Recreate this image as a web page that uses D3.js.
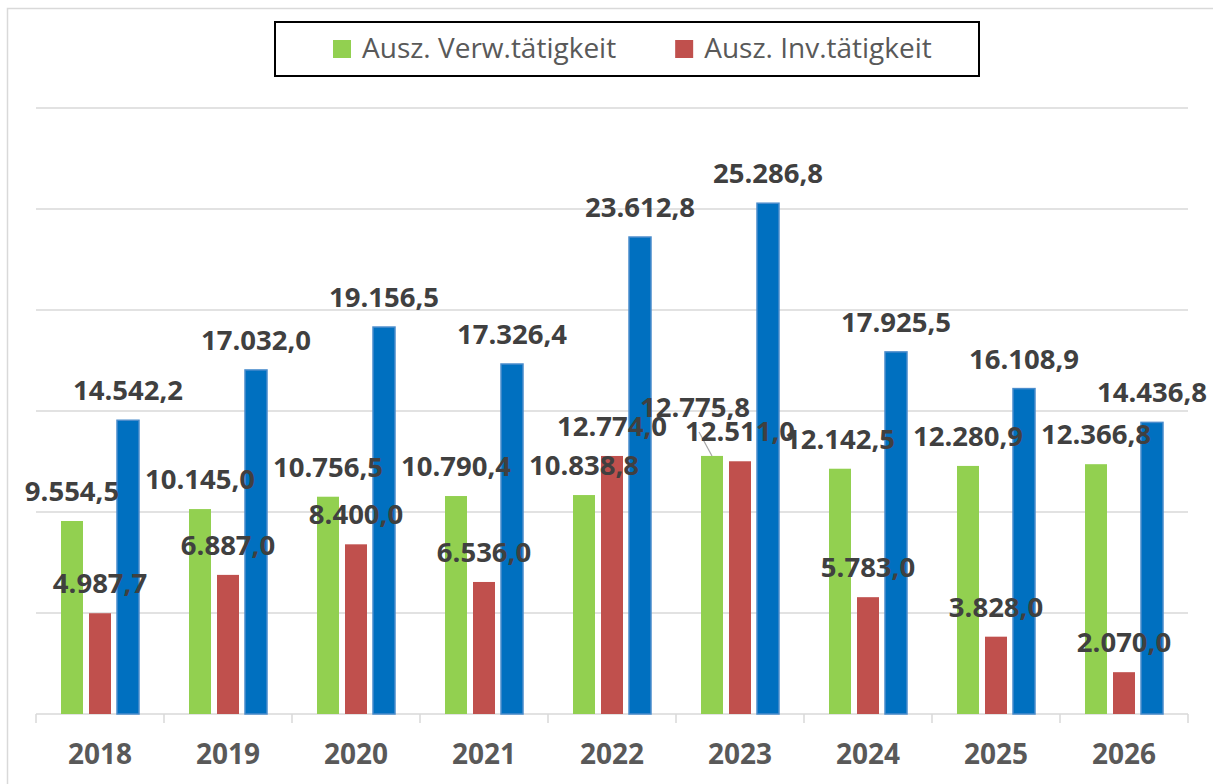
<!DOCTYPE html>
<html>
<head>
<meta charset="utf-8">
<script src="https://cdn.jsdelivr.net/npm/d3@7"></script>
<style>
  body { margin: 0; background: #fff; }
  .lbl { font-family: "Open Sans", sans-serif; font-weight: bold; font-size: 27.5px; fill: #404040; }
  .year { font-family: "Open Sans", sans-serif; font-weight: bold; font-size: 28px; fill: #595959; }
  .leg { font-family: "Open Sans", sans-serif; font-size: 28px; fill: #595959; }
</style>
</head>
<body>
<div id="chart"></div>
<script>
// chart values
var years = ["2018", "2019", "2020", "2021", "2022", "2023", "2024", "2025", "2026"];
var verw = [9554.5, 10145.0, 10756.5, 10790.4, 10838.8, 12775.8, 12142.5, 12280.9, 12366.8];
var inv = [4987.7, 6887.0, 8400.0, 6536.0, 12774.0, 12511.0, 5783.0, 3828.0, 2070.0];
var gesamt = [14542.2, 17032.0, 19156.5, 17326.4, 23612.8, 25286.8, 17925.5, 16108.9, 14436.8];
var seriesNames = ["Ausz. Verw.tätigkeit", "Ausz. Inv.tätigkeit", "Ausz. gesamt"];
var yTicks = [0, 5000, 10000, 15000, 20000, 25000, 30000];

var colors = ["#92D050", "#C0504D", "#0070C0"];
var series = [verw, inv, gesamt];

// size of the page
var W = 1213, H = 784;
var plot = {left: 36, right: 1188, top: 108, bottom: 714};

// german number format
var de = d3.formatLocale({decimal: ",", thousands: ".", grouping: [3], currency: ["", " €"]});
var fmt = de.format(",.1f");

var svg = d3.select("#chart").append("svg")
  .attr("width", W)
  .attr("height", H);

// outer frame
svg.append("rect")
  .attr("x", 7.5).attr("y", 8.5)
  .attr("width", W + 20).attr("height", H + 20)
  .attr("fill", "#fff")
  .attr("stroke", "#d9d9d9")
  .attr("stroke-width", 1.5);

// scales
var x0 = d3.scaleBand()
  .domain(years)
  .range([plot.left, plot.right]);

var x1 = d3.scaleBand()
  .domain([0, 1, 2])
  .range([0, 84])
  .paddingInner(6 / 28)
  .paddingOuter(3 / 28);

var y = d3.scaleLinear()
  .domain([0, 30000])
  .range([plot.bottom, plot.top]);

// gridlines
svg.append("g")
  .selectAll("line")
  .data(yTicks.slice(1))
  .enter().append("line")
  .attr("x1", plot.left).attr("x2", plot.right)
  .attr("y1", function(d) { return y(d); })
  .attr("y2", function(d) { return y(d); })
  .attr("stroke", "#d9d9d9")
  .attr("stroke-width", 1.5);

// x axis with tick marks between categories
var xAxis = svg.append("g")
  .attr("transform", "translate(0," + plot.bottom + ")");
xAxis.append("line")
  .attr("x1", plot.left).attr("x2", plot.right)
  .attr("stroke", "#d9d9d9").attr("stroke-width", 1.5);
xAxis.selectAll(".tk")
  .data(years.concat(["end"]))
  .enter().append("line")
  .attr("class", "tk")
  .attr("x1", function(d, i) { return i < years.length ? x0(d) : plot.right; })
  .attr("x2", function(d, i) { return i < years.length ? x0(d) : plot.right; })
  .attr("y1", 0).attr("y2", 9)
  .attr("stroke", "#d9d9d9").attr("stroke-width", 1.5);
xAxis.selectAll(".year")
  .data(years)
  .enter().append("text")
  .attr("class", "year")
  .attr("x", function(d) { return x0(d) + x0.bandwidth() / 2; })
  .attr("y", 50)
  .attr("text-anchor", "middle")
  .text(function(d) { return d; });

// bars, group by year
function barX(s, i) {
  return x0(years[i]) + x0.bandwidth() / 2 - 42 + x1(s);
}

series.forEach(function(vals, s) {
  svg.append("g")
    .selectAll("rect")
    .data(vals)
    .enter().append("rect")
    .attr("x", function(d, i) { return barX(s, i); })
    .attr("width", x1.bandwidth())
    .attr("y", function(d) { return y(d); })
    .attr("height", function(d) { return plot.bottom - y(d); })
    .attr("fill", colors[s])
    .attr("stroke", s == 2 ? "#4a8ccc" : "none")
    .attr("stroke-width", 1.5);
});

// labels which Excel moved away from the bar (2023, green)
var moved = {"0-5": [-17, -19]};

series.forEach(function(vals, s) {
  var g = svg.append("g");
  vals.forEach(function(d, i) {
    var cx = barX(s, i) + x1.bandwidth() / 2;
    var by = y(d) - 20;
    var off = moved[s + "-" + i];
    if (off) {
      g.append("line")
        .attr("x1", cx + off[0] + 4).attr("y1", by + off[1] + 15)
        .attr("x2", cx).attr("y2", y(d))
        .attr("stroke", "#a6a6a6").attr("stroke-width", 1.2);
      cx += off[0];
      by += off[1];
    }
    g.append("text")
      .attr("class", "lbl")
      .attr("x", cx)
      .attr("y", by)
      .attr("text-anchor", "middle")
      .text(fmt(d));
  });
});

// legend (only the first two series)
var legend = svg.append("g");
legend.append("rect")
  .attr("x", 275).attr("y", 22)
  .attr("width", 704).attr("height", 54)
  .attr("fill", "#fff")
  .attr("stroke", "#000")
  .attr("stroke-width", 2);

var lx = 333;
[0, 1].forEach(function(s) {
  legend.append("rect")
    .attr("x", lx).attr("y", 40)
    .attr("width", 18).attr("height", 18)
    .attr("fill", colors[s]);
  var t = legend.append("text")
    .attr("class", "leg")
    .attr("x", lx + 29)
    .attr("y", 58)
    .text(seriesNames[s]);
  lx = lx + 29 + t.node().getComputedTextLength() + 59;
});
</script>
</body>
</html>
